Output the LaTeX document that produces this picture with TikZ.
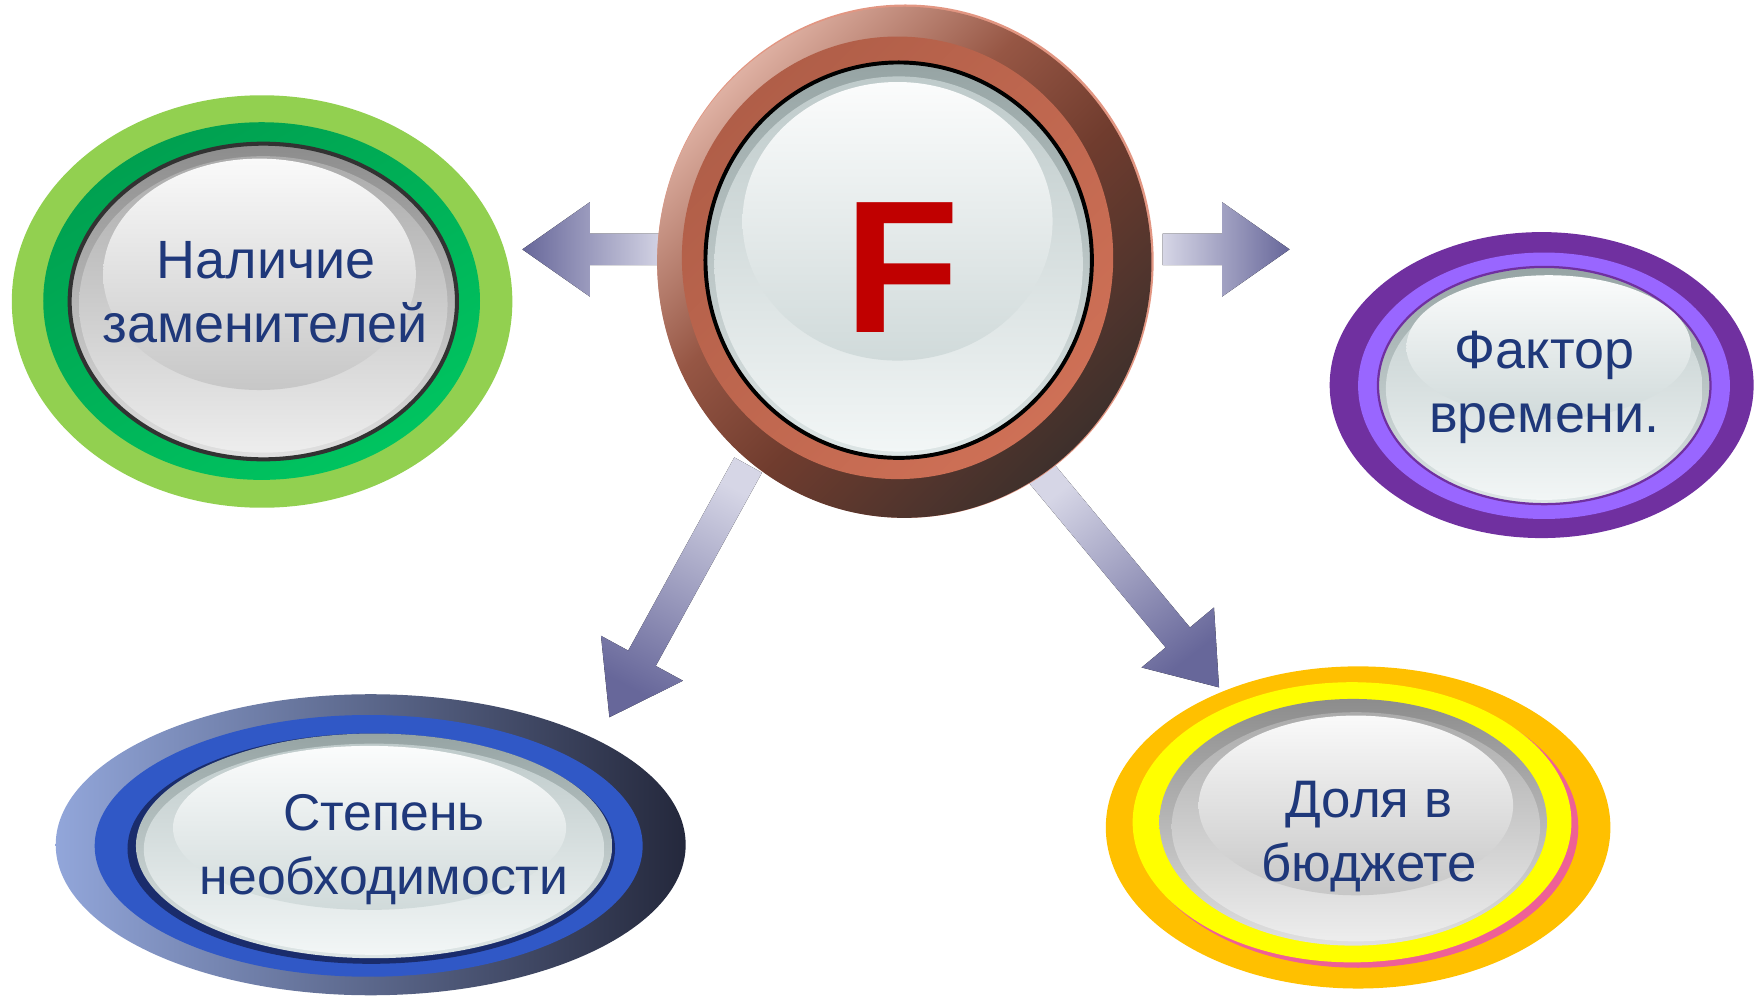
\documentclass[tikz,border=0pt]{standalone}
\usepackage{fontspec}
\setmainfont{Liberation Sans}
\usetikzlibrary{shapes.geometric}
\definecolor{txt}{HTML}{1F387A}
\definecolor{arrL}{HTML}{D6D6E6}
\definecolor{arrD}{HTML}{67679A}
\pgfdeclareverticalshading{fring}{100bp}{%
  color(0bp)=(rgb,255:red,56;green,46;blue,44);
  color(25bp)=(rgb,255:red,62;green,48;blue,44);
  color(45bp)=(rgb,255:red,112;green,60;blue,46);
  color(58bp)=(rgb,255:red,150;green,86;blue,68);
  color(75bp)=(rgb,255:red,222;green,176;blue,162);
  color(100bp)=(rgb,255:red,222;green,176;blue,162)}
\begin{document}
\begin{tikzpicture}[x=1pt,y=-1pt,
  el/.style={ellipse, inner sep=0pt, outer sep=0pt, draw=none},
  sz/.style 2 args={minimum width={2*#1pt}, minimum height={2*#2pt}},
  rimgray/.style={el, top color=black!45, bottom color=black!12},
  bodygray/.style={el, top color=black!33, bottom color=black!7},
  higray/.style={el, top color=black!2, bottom color=black!22},
  rimteal/.style={el, top color={rgb,255:red,150;green,164;blue,164}, bottom color={rgb,255:red,222;green,230;blue,230}},
  bodyteal/.style={el, top color={rgb,255:red,190;green,202;blue,202}, bottom color={rgb,255:red,242;green,246;blue,246}},
  hiteal/.style={el, top color={rgb,255:red,251;green,252;blue,252}, bottom color={rgb,255:red,208;green,218;blue,218}},
  lbl/.style={anchor=base, text=txt, inner sep=0pt, font=\fontsize{48}{56}\selectfont},
  blockarrow/.style={draw=none}
]
\useasboundingbox (0,0) rectangle (1565,886);

% ---------- block arrows ----------
\fill[blockarrow, left color=arrD, right color=arrL]
  (592,208) -- (525,208) -- (525,180) -- (465,222) -- (525,264) -- (525,236) -- (592,236) -- cycle;
\fill[blockarrow, left color=arrL, right color=arrD]
  (1035,208) -- (1088,208) -- (1088,180) -- (1148,222) -- (1088,264) -- (1088,236) -- (1035,236) -- cycle;
\fill[blockarrow, shading=axis, top color=arrL, bottom color=arrD, shading angle=-28]
  (653.7,407.2) -- (559.25,579.2) -- (535,566) -- (542.5,638.5) -- (608,606) -- (583.75,592.8) -- (678.3,420.8) -- cycle;
\fill[blockarrow, shading=axis, top color=arrL, bottom color=arrD, shading angle=38]
  (915.2,428.9) -- (1037.7,576.4) -- (1016.3,594.2) -- (1085.2,611.9) -- (1080.7,540.8) -- (1059.3,558.6) -- (936.8,411.1) -- cycle;

% ---------- centre button F ----------
\node[el, sz={221}{228.5}, fill={rgb,255:red,226;green,150;blue,130}] (Frimlight) at (806,232.5) {};
\node[el, sz={220}{227.5}, shading=fring, shading angle=45] (Fout) at (805,233.5) {};
\node[el, sz={192}{197}, shading=axis, top color={rgb,255:red,176;green,94;blue,72},
      bottom color={rgb,255:red,206;green,112;blue,86}, shading angle=45] (Fband) at (799,229.5) {};
\node[rimteal, draw=black, line width=3.5pt, sz={172}{176}] (Frim) at (800,231.6) {};
\node[bodyteal, sz={164}{167}] (Fbody) at (800,235) {};
\node[hiteal, sz={138}{124}] (Fhi) at (799,197) {};
\node[anchor=base, inner sep=0pt, text={rgb,255:red,192;green,0;blue,0},
      font=\fontsize{168}{168}\bfseries\selectfont] (F) at (803,296) {F};

% ---------- green button ----------
\node[el, sz={222.8}{183.6}, fill={rgb,255:red,146;green,208;blue,80}] (Gout) at (233.3,268.4) {};
\node[el, sz={194.4}{159.2}, shading=axis, top color={rgb,255:red,0;green,160;blue,80},
      bottom color={rgb,255:red,0;green,196;blue,96}, shading angle=30] (Gband) at (232.9,268) {};
\node[rimgray, draw={rgb,255:red,50;green,50;blue,50}, line width=3.6pt, sz={172.4}{140.5}] (Grim) at (234.4,268.4) {};
\node[bodygray, sz={164}{132}] (Gbody) at (234.4,271) {};
\node[higray, sz={139.2}{103}] (Ghi) at (231,244.2) {};
\node[lbl] (G1) at (237,247.8) {Наличие};
\node[lbl] (G2) at (236,305) {заменителей};

% ---------- purple button ----------
\node[el, sz={188.7}{136.2}, fill={rgb,255:red,112;green,48;blue,160}] (Pout) at (1372.4,342.8) {};
\node[el, sz={165.5}{118.6}, fill={rgb,255:red,153;green,102;blue,255}] (Pband) at (1374.5,343.4) {};
\node[rimteal, draw={rgb,255:red,112;green,48;blue,160}, line width=2pt, sz={148}{105.6}] (Prim) at (1374.7,343.2) {};
\node[bodyteal, sz={141}{99}] (Pbody) at (1374.7,346) {};
\node[hiteal, sz={126.7}{64}] (Phi) at (1378.7,309) {};
\node[lbl] (P1) at (1375,328) {Фактор};
\node[lbl] (P2) at (1375,384.6) {времени.};

% ---------- blue button ----------
\node[el, sz={280.4}{134}, shading=axis, left color={rgb,255:red,146;green,166;blue,218},
      middle color={rgb,255:red,40;green,70;blue,150}, right color={rgb,255:red,36;green,40;blue,60}] (Bout) at (330,752) {};
\node[el, sz={243.9}{116.5}, fill={rgb,255:red,48;green,88;blue,198}] (Bband) at (328.2,753) {};
\node[el, sz={217}{102.5}, fill={rgb,255:red,26;green,44;blue,108}] (Bline) at (330.5,755.5) {};
\node[rimteal, sz={212}{100}] (Brim) at (333,753) {};
\node[bodyteal, sz={205}{94}] (Bbody) at (333,756) {};
\node[hiteal, sz={175}{73}] (Bhi) at (329,737) {};
\node[lbl, font=\fontsize{46}{56}\selectfont] (B1) at (342,739) {Степень};
\node[lbl, font=\fontsize{46}{56}\selectfont] (B2) at (342,796) {необходимости};

% ---------- yellow button ----------
\node[el, sz={224.6}{143.4}, fill={rgb,255:red,255;green,192;blue,0}] (Yout) at (1209,736.6) {};
\node[el, sz={196}{125}, fill={rgb,255:red,238;green,96;blue,150}] (Ypink) at (1209,736.5) {};
\node[el, sz={195.3}{124.7}, fill={rgb,255:red,255;green,255;blue,0}] (Yband) at (1203.6,732) {};
\node[rimgray, sz={172.5}{109.8}] (Yrim) at (1204.6,732) {};
\node[bodygray, sz={164}{102}] (Ybody) at (1207,736) {};
\node[higray, sz={140}{80}] (Yhi) at (1207,717) {};
\node[lbl, font=\fontsize{47}{56}\selectfont] (Y1) at (1218.5,727.7) {Доля в};
\node[lbl, font=\fontsize{47}{56}\selectfont] (Y2) at (1218.7,784.5) {бюджете};
\end{tikzpicture}
\end{document}
